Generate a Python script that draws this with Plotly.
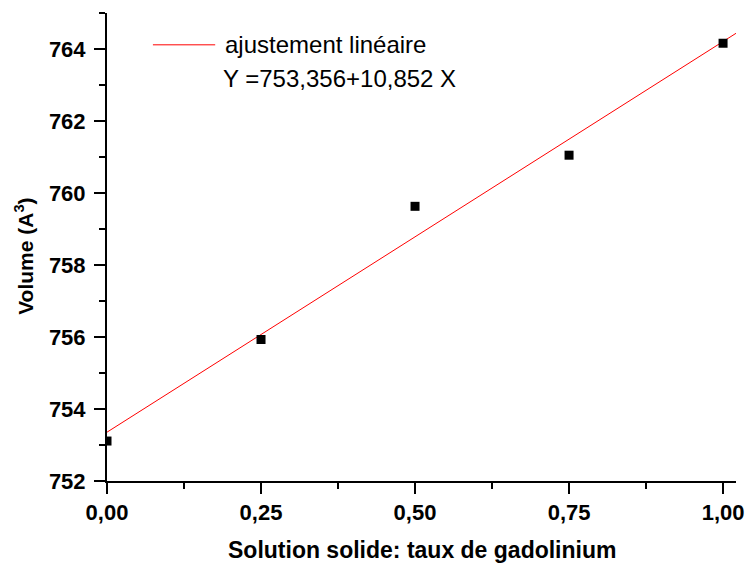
import plotly.graph_objects as go

# taux de gadolinium et volume de maille
taux = [0.0, 0.25, 0.50, 0.75, 1.0]
volume = [753.11, 755.93, 759.63, 761.05, 764.16]

# droite d'ajustement (extrémités)
fit_x = [0.0, 1.021]
fit_y = [753.356, 764.436]

x_ticks = [0, 0.25, 0.5, 0.75, 1.0]
y_ticks = [752, 754, 756, 758, 760, 762, 764]

fig = go.Figure()
fig.add_trace(go.Scatter(x=fit_x, y=fit_y, mode="lines",
                         line=dict(color="#ff0000", width=1), showlegend=False))
fig.add_trace(go.Scatter(x=taux, y=volume, mode="markers",
                         marker=dict(symbol="square", size=9, color="black"),
                         showlegend=False))

axis_font = dict(family="Liberation Sans", size=22, color="black", weight="bold")

fig.update_xaxes(range=[0, 1.021], tickvals=x_ticks, tickformat=".2f",
                 showline=True, linecolor="black", linewidth=2,
                 ticks="outside", ticklen=11, tickwidth=2, tickcolor="black",
                 minor=dict(dtick=0.125, tick0=0, ticks="outside", ticklen=6,
                            tickwidth=2, tickcolor="black"),
                 showgrid=False, zeroline=False, tickfont=axis_font,
                 automargin=False)
fig.update_yaxes(range=[752, 765], tickvals=y_ticks,
                 showline=True, linecolor="black", linewidth=2,
                 ticks="outside", ticklen=11, tickwidth=2, tickcolor="black",
                 minor=dict(dtick=1, tick0=752, ticks="outside", ticklen=6,
                            tickwidth=2, tickcolor="black"),
                 showgrid=False, zeroline=False, tickfont=axis_font,
                 ticklabelstandoff=4, automargin=False)

# titres des axes
fig.add_annotation(text="Solution solide: taux de gadolinium", xref="paper", yref="paper",
                   x=0.5, y=-0.147, xanchor="center", yanchor="middle", showarrow=False,
                   font=dict(family="Liberation Sans", size=23, color="black", weight="bold"))
fig.add_annotation(text="Volume (A<sup>3</sup>)", xref="paper", yref="paper",
                   x=-0.132, y=0.481, xanchor="center", yanchor="middle", showarrow=False,
                   textangle=-90,
                   font=dict(family="Liberation Sans", size=21, color="black", weight="bold"))

# légende faite à la main
fig.add_shape(type="line", xref="paper", yref="paper", x0=0.073, x1=0.172, y0=0.932, y1=0.932,
              line=dict(color="#ff0000", width=1))
fig.add_annotation(text="ajustement linéaire", xref="paper", yref="paper",
                   x=0.184, y=0.932, xanchor="left", yanchor="middle", showarrow=False,
                   font=dict(family="Liberation Sans", size=24, color="black"))
fig.add_annotation(text="Y =753,356+10,852 X", xref="paper", yref="paper",
                   x=0.181, y=0.861, xanchor="left", yanchor="middle", showarrow=False,
                   font=dict(family="Liberation Sans", size=24, color="black"))

fig.update_layout(width=745, height=563,
                  margin=dict(l=107, r=9, t=13, b=82),
                  paper_bgcolor="white", plot_bgcolor="white",
                  separators=",.")
fig.write_html("out.html", config={"displayModeBar": False},
               post_script="document.body.style.margin='0';")
